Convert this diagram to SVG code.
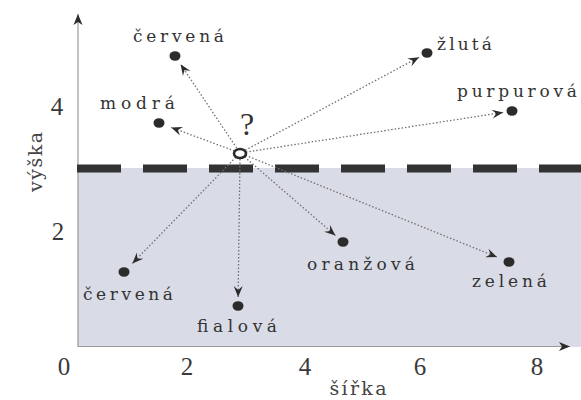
<svg xmlns="http://www.w3.org/2000/svg" width="581" height="400" viewBox="0 0 581 400">
  <style>
    .lbl { font-family: "DejaVu Serif", "Liberation Serif", serif; font-size: 17px; fill: #333333; }
    .num { font-family: "Liberation Serif", "DejaVu Serif", serif; font-size: 25px; fill: #3a3a3a; text-anchor: middle; }
    .ax { font-family: "DejaVu Serif", "Liberation Serif", serif; font-size: 19px; fill: #444; text-anchor: middle; }
    .dot { fill: #2b2b2b; }
    .conn { stroke: #707070; stroke-width: 1.3; stroke-dasharray: 1.5 2; fill: none; marker-end: url(#arr); }
    .axis { stroke: #9a9a9a; stroke-width: 1.2; fill: none; }
  </style>
  <defs>
    <marker id="arr" viewBox="-12 -5 13 10" refX="0" refY="0" markerWidth="13" markerHeight="10" orient="auto" markerUnits="userSpaceOnUse">
      <path d="M0,0 L-11,-4.5 L-7,0 L-11,4.5 Z" fill="#2b2b2b"/>
    </marker>
    <marker id="axarr" viewBox="-12 -5 13 10" refX="0" refY="0" markerWidth="13" markerHeight="10" orient="auto" markerUnits="userSpaceOnUse">
      <path d="M0,0 L-11,-4.5 L-8,0 L-11,4.5 Z" fill="#2b2b2b"/>
    </marker>
  </defs>
  <rect width="581" height="400" fill="#ffffff"/>

  <g id="background">
    <rect x="78" y="168" width="503" height="179" fill="#d9dbe6"/>
  </g>

  <g id="axes">
    <line class="axis" x1="78" y1="347" x2="78" y2="14" marker-end="url(#axarr)"/>
    <line class="axis" x1="78" y1="346.5" x2="570" y2="346.5" marker-end="url(#axarr)"/>
    <text class="num" x="64" y="375">0</text>
    <text class="num" x="187" y="375">2</text>
    <text class="num" x="305" y="375">4</text>
    <text class="num" x="420" y="375">6</text>
    <text class="num" x="537" y="375">8</text>
    <text class="num" x="57" y="115">4</text>
    <text class="num" x="58" y="240">2</text>
    <text class="ax" x="358" y="395" textLength="57" lengthAdjust="spacing">šířka</text>
    <text class="ax" transform="translate(42,162) rotate(-90)" x="0" y="0" textLength="60" lengthAdjust="spacing">výška</text>
  </g>

  <g id="boundary">
    <line x1="77" y1="168.5" x2="581" y2="168.5" stroke="#333" stroke-width="8" stroke-dasharray="44 22"/>
  </g>

  <g id="connectors">
    <line class="conn" x1="236.7" y1="148" x2="180.6" y2="64.3"/>
    <line class="conn" x1="234.4" y1="150.9" x2="171.2" y2="127.5"/>
    <line class="conn" x1="245.3" y1="150.2" x2="419.1" y2="57.2"/>
    <line class="conn" x1="245.9" y1="152.1" x2="503.1" y2="112.4"/>
    <line class="conn" x1="235.8" y1="157.3" x2="132.4" y2="263.4"/>
    <line class="conn" x1="240" y1="159" x2="238.1" y2="297"/>
    <line class="conn" x1="244.5" y1="156.9" x2="335.4" y2="235.5"/>
    <line class="conn" x1="245.6" y1="155.3" x2="497" y2="257.1"/>
  </g>

  <g id="origin">
    <ellipse cx="240" cy="153.5" rx="6" ry="4.5" fill="#ffffff" stroke="#2b2b2b" stroke-width="2.6"/>
    <text x="247" y="135" font-family="Liberation Serif, serif" font-size="32" fill="#333" text-anchor="middle">?</text>
  </g>

  <g id="cervena-top">
    <ellipse class="dot" cx="175" cy="56" rx="5.5" ry="4.8"/>
    <text class="lbl" x="133" y="42" textLength="91" lengthAdjust="spacing">červená</text>
  </g>
  <g id="modra">
    <ellipse class="dot" cx="159" cy="123" rx="5.5" ry="4.8"/>
    <text class="lbl" x="100" y="109" textLength="75" lengthAdjust="spacing">modrá</text>
  </g>
  <g id="zluta">
    <ellipse class="dot" cx="427" cy="53" rx="5.5" ry="4.8"/>
    <text class="lbl" x="437" y="50" textLength="55" lengthAdjust="spacing">žlutá</text>
  </g>
  <g id="purpurova">
    <ellipse class="dot" cx="512" cy="111" rx="5.5" ry="4.8"/>
    <text class="lbl" x="457" y="97" textLength="120" lengthAdjust="spacing">purpurová</text>
  </g>
  <g id="cervena-bottom">
    <ellipse class="dot" cx="124" cy="272" rx="5.5" ry="4.8"/>
    <text class="lbl" x="83" y="300" textLength="90" lengthAdjust="spacing">červená</text>
  </g>
  <g id="fialova">
    <ellipse class="dot" cx="238" cy="306" rx="5.5" ry="4.8"/>
    <text class="lbl" x="197" y="332" textLength="80" lengthAdjust="spacing">fialová</text>
  </g>
  <g id="oranzova">
    <ellipse class="dot" cx="343" cy="242" rx="5.5" ry="4.8"/>
    <text class="lbl" x="307" y="270" textLength="108" lengthAdjust="spacing">oranžová</text>
  </g>
  <g id="zelena">
    <ellipse class="dot" cx="509" cy="262" rx="5.5" ry="4.8"/>
    <text class="lbl" x="472" y="287" textLength="75" lengthAdjust="spacing">zelená</text>
  </g>
</svg>
